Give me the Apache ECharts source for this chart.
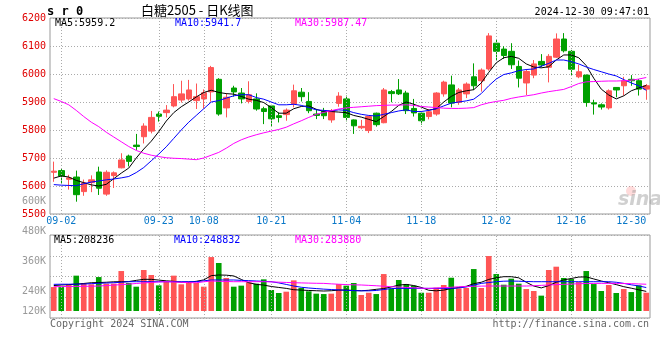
<!DOCTYPE html>
<html><head><meta charset="utf-8">
<script src="https://cdn.jsdelivr.net/npm/echarts@6/dist/echarts.min.js"></script>
<style>html,body{margin:0;padding:0;background:#fff}#c{width:660px;height:360px}</style>
</head><body><div id="c"></div><script>
const dates = ['08-30','09-02','09-03','09-04','09-05','09-06','09-09','09-10','09-11','09-12','09-13','09-18','09-19','09-20','09-23','09-24','09-25','09-26','09-27','09-30','10-08','10-09','10-10','10-11','10-14','10-15','10-16','10-17','10-18','10-21','10-22','10-23','10-24','10-25','10-28','10-29','10-30','10-31','11-01','11-04','11-05','11-06','11-07','11-08','11-11','11-12','11-13','11-14','11-15','11-18','11-19','11-20','11-21','11-22','11-25','11-26','11-27','11-28','11-29','12-02','12-03','12-04','12-05','12-06','12-09','12-10','12-11','12-12','12-13','12-16','12-17','12-18','12-19','12-20','12-23','12-24','12-25','12-26','12-27','12-30'];
const open  = [5649,5655,5624,5632,5580,5612,5650,5571,5637,5665,5707,5746,5776,5796,5857,5862,5886,5907,5911,5905,5911,5936,5981,5879,5950,5932,5902,5911,5876,5886,5851,5855,5893,5935,5902,5857,5867,5836,5895,5911,5836,5808,5798,5860,5826,5937,5943,5932,5877,5860,5848,5857,5929,5961,5899,5929,5990,5976,6018,6110,6089,6081,6027,5968,5996,6045,6024,6060,6125,6081,5990,5996,5897,5890,5879,5952,5958,5981,5976,5946];
const close = [5653,5636,5629,5569,5611,5622,5592,5649,5647,5693,5688,5741,5814,5845,5849,5871,5919,5929,5943,5919,5933,6023,5857,5917,5936,5911,5926,5875,5866,5840,5845,5871,5940,5919,5869,5852,5851,5869,5921,5845,5815,5813,5848,5819,5943,5930,5929,5869,5861,5833,5865,5932,5971,5896,5943,5964,5958,6014,6136,6081,6066,6033,5985,6009,6036,6032,6063,6125,6083,6017,6008,5898,5893,5882,5940,5943,5976,5976,5946,5958];
const low   = [5615,5607,5587,5544,5565,5578,5568,5565,5593,5663,5670,5729,5752,5788,5830,5845,5881,5898,5905,5875,5877,5901,5851,5845,5919,5895,5895,5869,5821,5812,5827,5833,5881,5902,5860,5839,5839,5826,5883,5831,5786,5803,5789,5812,5824,5899,5925,5857,5848,5819,5838,5851,5919,5881,5890,5914,5943,5937,6012,6048,6054,6018,5952,5925,5985,6024,5970,6057,6077,5994,5985,5883,5855,5873,5873,5917,5923,5958,5923,5908];
const high  = [5687,5663,5640,5655,5623,5638,5669,5656,5652,5717,5712,5786,5824,5868,5866,5889,5964,5976,5979,5966,5945,6029,5985,5931,5958,5950,5974,5931,5883,5890,5863,5877,5962,5950,5935,5875,5879,5875,5935,5923,5838,5836,5851,5862,5950,5943,5982,5940,5911,5862,5875,5935,5976,5994,5950,5970,6038,6020,6146,6125,6099,6110,6048,6018,6050,6071,6071,6145,6146,6086,6033,5998,5908,5895,5945,5953,5990,5996,5982,5964];
const ma5  = [5628,5636,5632,5620,5612,5604,5600,5606,5626,5646,5664,5700,5732,5760,5794,5832,5862,5883,5900,5918,5934,5942,5934,5930,5928,5920,5910,5906,5898,5880,5860,5860,5876,5884,5886,5874,5866,5866,5864,5862,5852,5846,5838,5830,5848,5866,5888,5900,5892,5882,5871,5876,5900,5920,5934,5940,5944,5968,6006,6040,6058,6063,6056,6036,6025,6022,6026,6050,6068,6068,6058,6030,5985,5946,5925,5911,5922,5940,5950,5959.2];
const ma10 = [5605,5603,5602,5601,5608,5614,5618,5622,5625,5629,5634,5648,5666,5690,5714,5740,5770,5800,5828,5852,5876,5900,5905,5914,5922,5926,5926,5916,5910,5900,5890,5890,5892,5888,5880,5872,5870,5868,5872,5870,5862,5856,5852,5850,5856,5862,5868,5872,5866,5866,5870,5876,5886,5896,5900,5904,5910,5930,5958,5982,5998,6004,6012,6016,6018,6028,6038,6050,6050,6044,6036,6025,6016,6008,6000,5993,5980,5968,5958,5941.7];
const ma30 = [5912,5902,5890,5870,5848,5828,5812,5792,5775,5758,5741,5727,5717,5710,5705,5701,5699,5698,5696,5694,5700,5710,5720,5735,5752,5765,5775,5783,5790,5796,5802,5810,5822,5833,5845,5856,5863,5869,5875,5879,5881,5883,5885,5887,5888,5889,5889,5890,5888,5884,5882,5880,5878,5877,5877,5878,5880,5890,5897,5902,5906,5913,5918,5922,5926,5932,5937,5941,5945,5955,5966,5972,5973,5974,5975,5975,5976,5978,5982,5987.47];
const volume = [254,254,283,375,297,283,360,290,290,424,297,258,435,382,272,311,375,283,311,297,258,572,509,350,258,269,304,290,336,223,191,205,325,244,209,184,180,184,286,269,297,170,194,180,392,237,329,286,269,194,194,247,276,353,240,244,445,244,583,392,279,343,290,233,212,163,435,470,350,339,307,424,286,212,276,191,233,201,272,194].map(v => v * 1000);
const volMa5  = [270,276,280,285,292,300,302,305,310,311,312,325,336,336,328,320,315,306,305,315,330,375,382,380,372,335,300,283,275,260,250,240,226,222,218,215,212,215,222,222,218,215,220,230,238,255,275,282,270,250,220,214,222,238,250,262,290,305,335,352,364,364,352,305,265,245,270,305,330,345,360,362,340,318,300,280,258,242,225,208.236].map(v => v * 1000);
const volMa10 = [283,284,284,285,286,290,294,297,300,305,311,311,311,311,311,311,311,311,311,311,320,329,329,329,329,325,322,318,315,311,298,282,265,252,244,238,232,228,224,220,216,214,214,218,228,238,240,240,240,240,240,240,240,240,245,255,275,293,302,311,316,318,316,313,311,311,311,311,311,311,311,311,311,311,311,305,293,278,266,248.832].map(v => v * 1000);
const volMa30 = [258,259,260,261,262,263,265,270,275,280,285,292,298,303,308,311,308,304,301,300,310,318,316,313,311,311,311,311,311,309,306,303,300,298,296,294,293,288,284,280,278,276,272,268,263,258,254,250,246,242,240,244,248,252,257,260,262,264,265,265,265,265,265,265,268,272,276,280,283,286,289,292,293,293,293,293,292,290,287,283.88].map(v => v * 1000);
const xTickDates = ['09-02','09-23','10-08','10-21','11-04','11-18','12-02','12-16','12-30'];
const priceMaLast = [5959.2, 5941.7, 5987.47];
const volMaLast = [208236, 248832, 283880];
const volTickLabels = ['120K','240K','360K','480K','600K'];
const titleText = '白糖2505 - 日K线图';
const symbolText = 's r 0';
const timeText = '2024-12-30 09:47:01';

// layout constants (not data)
const volTickSlots = [0, 2, 5, 8, 11];
const volSlotCount = 12;

const MONO = '"DejaVu Sans Mono", "Liberation Mono", monospace';
const UP = '#ff5555', DOWN = '#00a000';
const GRIDC = '#aaaaaa';

const candleData = dates.map((d, i) => [open[i], close[i], low[i], high[i]]);
const volData = volume.map((v, i) => ({ value: v, itemStyle: { color: close[i] >= open[i] ? UP : DOWN } }));
const volSlots = Array.from({ length: volSlotCount }, () => '');
volTickSlots.forEach((s, k) => { volSlots[s] = volTickLabels[k]; });

const vMarks = () => ({
  silent: true, symbol: ['none', 'none'], animation: false,
  label: { show: false },
  lineStyle: { type: [1, 2], color: GRIDC, width: 1 },
  emphasis: { disabled: true },
  data: xTickDates.filter(d => d !== dates[dates.length - 1]).map(d => ({ xAxis: d }))
});

const lineS = (data, color, xi, yi) => ({
  type: 'line', data, xAxisIndex: xi, yAxisIndex: yi, symbol: 'none', showSymbol: false, smooth: false, silent: true,
  lineStyle: { color, width: 1 }, itemStyle: { color }, animation: false, z: 5
});

const txt = (text, x, y, fill, font, align) => ({
  type: 'text', x, y, silent: true, z: 100,
  style: { text, fill, font, textAlign: align || 'left', align: align || 'left', textVerticalAlign: 'middle', verticalAlign: 'middle' }
});

const chart = echarts.init(document.getElementById('c'), null, { renderer: 'canvas' });
chart.setOption({
  animation: false,
  backgroundColor: '#ffffff',
  textStyle: { fontFamily: MONO },
  grid: [
    { left: 50, right: 10, top: 18, height: 196, show: true, borderColor: '#999', borderWidth: 1, backgroundColor: 'transparent', outerBoundsMode: 'none', containLabel: false },
    { left: 50, right: 10, top: 235, height: 83, show: true, borderColor: '#999', borderWidth: 1, backgroundColor: 'transparent', outerBoundsMode: 'none', containLabel: false },
    { left: 50, right: 10, top: 201, height: 110, show: false, outerBoundsMode: 'none', containLabel: false }
  ],
  xAxis: [
    { type: 'category', gridIndex: 0, data: dates, boundaryGap: true,
      axisLine: { show: false }, axisTick: { show: false }, splitLine: { show: false },
      axisLabel: { interval: (i, v) => xTickDates.includes(v), color: '#0a78c8', fontFamily: MONO, fontSize: 10, margin: 2, alignMaxLabel: 'right' } },
    { type: 'category', gridIndex: 1, data: dates, boundaryGap: true,
      axisLine: { show: false }, axisTick: { show: false }, splitLine: { show: false }, axisLabel: { show: false } },
    { type: 'value', gridIndex: 2, min: 0, max: 1, show: false }
  ],
  yAxis: [
    { type: 'value', gridIndex: 0, min: 5500, max: 6200, interval: 100,
      axisLine: { show: false }, axisTick: { show: false },
      axisLabel: { color: '#e00000', fontFamily: MONO, fontSize: 10, margin: 4, formatter: v => String(v) },
      splitLine: { show: true, lineStyle: { type: [1, 2], color: GRIDC } } },
    { type: 'value', gridIndex: 1, min: -74000, max: 806000, show: false },
    { type: 'value', gridIndex: 1, min: 0, max: 4, interval: 1,
      axisLine: { show: false }, axisTick: { show: false }, axisLabel: { show: false },
      splitLine: { show: true, lineStyle: { type: [1, 2], color: GRIDC } } },
    { type: 'category', gridIndex: 2, data: volSlots, boundaryGap: false,
      axisLine: { show: false }, axisTick: { show: false }, splitLine: { show: false },
      axisLabel: { interval: 0, color: '#999', fontFamily: MONO, fontSize: 10, margin: 4 } }
  ],
  series: [
    { type: 'candlestick', xAxisIndex: 0, yAxisIndex: 0, data: candleData, barWidth: 6, silent: true,
      itemStyle: { color: UP, color0: DOWN, borderColor: UP, borderColor0: DOWN, borderWidth: 1 },
      markLine: vMarks() },
    lineS(ma5, '#000000', 0, 0),
    lineS(ma10, '#0000ff', 0, 0),
    lineS(ma30, '#ff00ff', 0, 0),
    { type: 'bar', xAxisIndex: 1, yAxisIndex: 1, data: volData, barWidth: '75%', silent: true, markLine: vMarks() },
    lineS(volMa5, '#000000', 1, 1),
    lineS(volMa10, '#0000ff', 1, 1),
    lineS(volMa30, '#ff00ff', 1, 1)
  ],
  graphic: [
    txt(symbolText, 47, 12, '#000', 'bold 12px ' + MONO),
    txt(titleText, 141, 10, '#000', '13px "Noto Sans CJK SC", sans-serif'),
    txt(timeText, 649, 12, '#000', '10px ' + MONO, 'right'),
    txt('MA5:' + priceMaLast[0], 55, 23, '#000', '10px ' + MONO),
    txt('MA10:' + priceMaLast[1], 175, 23, '#0000ff', '10px ' + MONO),
    txt('MA30:' + priceMaLast[2], 295, 23, '#ff00ff', '10px ' + MONO),
    txt('MA5:' + volMaLast[0], 54, 240, '#000', '10px ' + MONO),
    txt('MA10:' + volMaLast[1], 174, 240, '#0000ff', '10px ' + MONO),
    txt('MA30:' + volMaLast[2], 295, 240, '#ff00ff', '10px ' + MONO),
    txt('Copyright 2024 SINA.COM', 50, 324, '#666', '10px ' + MONO),
    txt('http://finance.sina.com.cn', 649, 324, '#666', '10px ' + MONO, 'right'),
    { type: 'circle', shape: { cx: 631, cy: 191, r: 5 }, style: { fill: 'rgba(255,110,110,0.25)' }, silent: true, z: 1 },
    txt('sina', 618, 200, 'rgba(150,150,150,0.45)', 'italic bold 19px "DejaVu Sans", sans-serif')
  ]
});
</script></body></html>
